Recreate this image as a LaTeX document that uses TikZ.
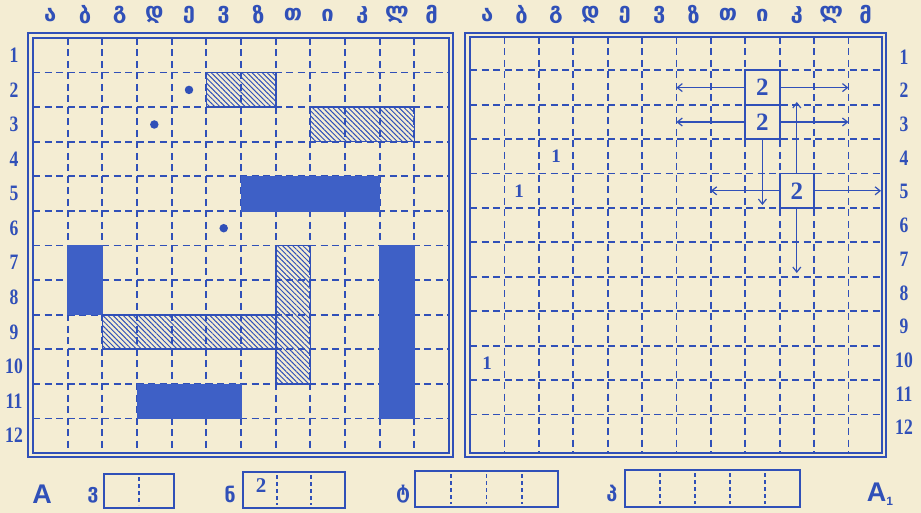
\documentclass[tikz,border=0pt]{standalone}
\usepackage{fontspec}
\setmainfont{Liberation Serif}
\newfontfamily\geofont{DejaVu Sans}
\newfontfamily\numfont[FakeStretch=0.8]{Liberation Serif}
\newfontfamily\capfont{Liberation Sans}
\usetikzlibrary{patterns.meta,arrows.meta}
\definecolor{paper}{HTML}{F4EDD3}
\definecolor{ink}{HTML}{3050B8}
\definecolor{inkfill}{HTML}{3E60C6}
\tikzset{
  gridline/.style={draw=ink, line width=1.8pt, dash pattern=on 7pt off 4.5pt},
  frameout/.style={draw=ink, line width=2.8pt},
  framein/.style={draw=ink, line width=1.8pt},
  shipsolid/.style={fill=inkfill, draw=inkfill, line width=0.6pt},
  shiphatch/.style={draw=ink, line width=1.6pt, pattern={Lines[angle=-45,distance=3.6pt,line width=1pt]}, pattern color=ink},
  colletter/.style={font=\geofont\bfseries\fontsize{22}{22}\selectfont, text=ink, inner sep=0pt},
  rownum/.style={font=\numfont\bfseries\fontsize{22}{22}\selectfont, text=ink, inner sep=0pt},
  shot/.style={circle, fill=ink, inner sep=0pt, minimum size=8.5pt},
  markone/.style={font=\bfseries\fontsize{19}{19}\selectfont, text=ink, inner sep=0pt},
  hitbox/.style={draw=ink, line width=1.8pt, minimum width=34.4pt, minimum height=34.4pt, inner sep=0pt, font=\bfseries\fontsize{25}{25}\selectfont, text=ink},
  shiparrow/.style={draw=ink, line width=1.2pt, -{Straight Barb[length=5pt,width=8pt]}},
  tallybox/.style={draw=ink, line width=2pt, inner sep=0pt},
  tallydiv/.style={draw=ink, line width=1.6pt, dash pattern=on 4pt off 3pt},
  tallylabel/.style={font=\geofont\bfseries\fontsize{20}{20}\selectfont, text=ink, inner sep=0pt},
  sidecap/.style={font=\capfont\bfseries\fontsize{27}{27}\selectfont, text=ink, inner sep=0pt},
}
\begin{document}
\begin{tikzpicture}[x=1pt,y=-1pt]
\fill[paper] (0,0) rectangle (921,513);
\useasboundingbox (0,0) rectangle (921,513);

% ---------- left board ----------
\foreach \i in {1,...,11} {
  \draw[gridline] ({33+\i*34.667},38) -- ({33+\i*34.667},453);
  \draw[gridline] (33,{38+\i*34.583}) -- (449,{38+\i*34.583});
}
\fill[shipsolid] (241,176.3) rectangle (379.7,210.9);
\fill[shipsolid] (67.7,245.5) rectangle (102.3,314.7);
\fill[shipsolid] (137,383.8) rectangle (241,418.4);
\fill[shipsolid] (379.7,245.5) rectangle (414.3,418.4);
\path[shiphatch] (206.3,72.6) rectangle (275.7,107.2);
\path[shiphatch] (310.3,107.2) rectangle (414.3,141.7);
\path[shiphatch] (102.3,314.7) rectangle (275.7,349.2);
\path[shiphatch] (275.7,245.5) rectangle (310.3,383.8);
\node[shot] (s1) at (189,89.9) {};
\node[shot] (s2) at (154.3,124.5) {};
\node[shot] (s3) at (223.7,228.2) {};
\draw[frameout] (28,33) rectangle (453,457);
\draw[framein] (33,38) rectangle (449,453);

% ---------- right board ----------
\foreach \i in {1,...,11} {
  \draw[gridline] ({470+\i*34.4},37) -- ({470+\i*34.4},452);
  \draw[gridline] (470,{36+\i*34.4}) -- (882,{36+\i*34.4});
}
\draw[frameout] (465,33) rectangle (886,457);
\draw[framein] (470,37) rectangle (882,453);

\node[markone] (m1) at (556,156.4) {1};
\node[markone] (m2) at (519,190.8) {1};
\node[markone] (m3) at (487.2,362.8) {1};

\node[hitbox, fill=paper] (b1) at (762.4,87.6) {2};
\node[hitbox, fill=paper] (b2) at (762.4,122) {2};
\node[hitbox, fill=paper] (b3) at (796.8,190.8) {2};
\coordinate (b1w) at (676.4,87.6);
\coordinate (b1e) at (848.4,87.6);
\coordinate (b2w) at (676.4,122);
\coordinate (b2e) at (848.4,122);
\coordinate (b2s) at (762.4,205);
\coordinate (b3n) at (796.8,102);
\coordinate (b3s) at (796.8,273);
\coordinate (b3w) at (710.8,190.8);
\coordinate (b3e) at (881,190.8);
\draw[shiparrow] (b1) -- (b1w);
\draw[shiparrow] (b1) -- (b1e);
\draw[shiparrow] (b2) -- (b2w);
\draw[shiparrow] (b2) -- (b2e);
\draw[shiparrow] (b2) -- (b2s);
\draw[shiparrow] (b3) -- (b3n);
\draw[shiparrow] (b3) -- (b3s);
\draw[shiparrow] (b3) -- (b3w);
\draw[shiparrow] (b3) -- (b3e);

% ---------- letters and numbers ----------
\foreach \ch [count=\i] in {ა,ბ,გ,დ,ე,ვ,ზ,თ,ი,კ,ლ,მ} {
  \node[colletter] (lt\i) at ({33+(\i-0.5)*34.667},15) {\ch};
  \node[colletter] (rt\i) at ({470+(\i-0.5)*34.4},15) {\ch};
}
\foreach \i in {1,...,12} {
  \node[rownum] (ln\i) at (14,{38+(\i-0.5)*34.583}) {\i};
  \node[rownum] (rn\i) at (904,{57+(\i-1)*33.7}) {\i};
}

% ---------- bottom tallies ----------
\node[sidecap] (capA) at (42,494) {A};
\node[sidecap] (capB) at (880,494) {A\raisebox{-4pt}{\fontsize{12}{12}\selectfont 1}};

\node[tallylabel] (tl1) at (93,495) {ვ};
\node[tallybox, minimum width=70pt, minimum height=34pt] (t1) at (139,491) {};
\draw[tallydiv] (139,477) -- (139,505);

\node[tallylabel] (tl2) at (230,494) {ნ};
\node[tallybox, minimum width=102pt, minimum height=36pt] (t2) at (294,490) {};
\draw[tallydiv] (277,475) -- (277,505);
\draw[tallydiv] (311,475) -- (311,505);
\node[markone, font=\bfseries\fontsize{21}{21}\selectfont] (t2n) at (261,486) {2};

\node[tallylabel] (tl3) at (403,494) {ტ};
\node[tallybox, minimum width=143pt, minimum height=36pt] (t3) at (486.5,489) {};
\foreach \x in {450.75,486.5,522.25} \draw[tallydiv] (\x,474) -- (\x,504);

\node[tallylabel] (tl4) at (612,493) {პ};
\node[tallybox, minimum width=175pt, minimum height=37pt] (t4) at (712.5,488.5) {};
\foreach \x in {660,695,730,765} \draw[tallydiv] (\x,473) -- (\x,504);
\end{tikzpicture}
\end{document}
